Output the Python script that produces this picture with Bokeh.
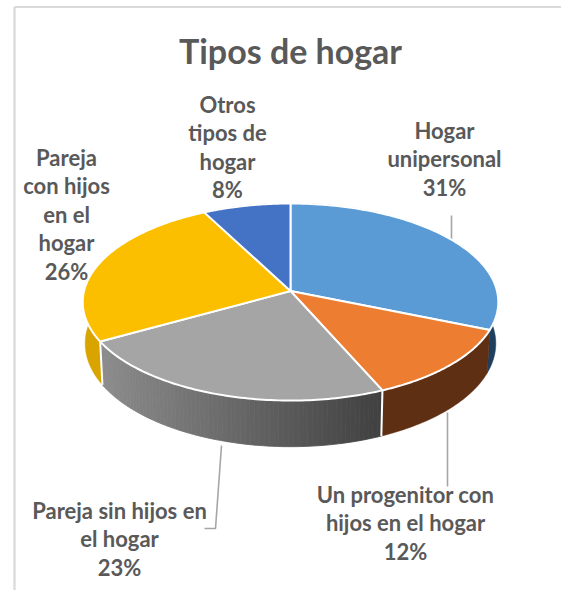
import numpy as np
from bokeh.plotting import figure
from bokeh.models import Range1d
from bokeh.core.properties import value
from bokeh.embed import file_html
from bokeh.resources import INLINE

title = "Tipos de hogar"
categories = ["Hogar unipersonal", "Un progenitor con hijos en el hogar",
              "Pareja sin hijos en el hogar", "Pareja con hijos en el hogar",
              "Otros tipos de hogar"]
shares = [31.3, 12.2, 23.4, 25.6, 7.6]
top_colors = ["#5b9bd5", "#ed7d31", "#a5a5a5", "#fbbf00", "#4472c4"]
wall_colors = ["#1f3f5f", "#5e2f12", None, "#d9a400", "#2a4a85"]
label_lines = [["Hogar", "unipersonal"], ["Un progenitor con", "hijos en el hogar"],
               ["Pareja sin hijos en", "el hogar"], ["Pareja", "con hijos", "en el", "hogar"],
               ["Otros", "tipos de", "hogar"]]

W, H = 561, 590
CX, CY, A, B, K = 290.0, 290.5, 206.5, 97.3, 0.1117
DEPTH, SHRINK = 41.0, 0.988
TEXT = "#595959"


def rim(deg, drop=False):
    t = np.radians(deg)
    u, v = np.sin(t), np.cos(t)
    w = 1 + K * v
    s = SHRINK if drop else 1.0
    x = CX + s * A * u / w
    y = CY - B * v / w + (DEPTH / w if drop else 0.0)
    return x, y


p = figure(width=W, height=H, x_range=Range1d(0, W), y_range=Range1d(H, 0),
           output_backend="svg", toolbar_location=None, min_border=0,
           background_fill_color="white",
           border_fill_color="white", outline_line_color=None)
p.axis.visible = False
p.grid.visible = False

# chart frame
p.segment([14, 14], [6.5, 6.5], [561, 14], [6.5, 590], line_color="#d9d9d9", line_width=2.2)

edges = np.cumsum([0] + shares) / sum(shares) * 360.0

# side walls
for i, col in enumerate(wall_colors):
    a0, a1 = edges[i], edges[i + 1]
    if col is None:
        steps = np.linspace(a0, a1, 71)
        xs, ys, cs = [], [], []
        xl, _ = rim(a1)
        xr, _ = rim(a0)
        for s0, s1 in zip(steps[:-1], steps[1:]):
            tx0, ty0 = rim(s0)
            tx1, ty1 = rim(s1)
            bx0, by0 = rim(s0, True)
            bx1, by1 = rim(s1, True)
            f = ((tx0 + tx1) / 2 - xl) / (xr - xl)
            g = int(round(0x8c + (0x40 - 0x8c) * f))
            xs.append([tx0, tx1, bx1, bx0])
            ys.append([ty0, ty1, by1, by0])
            cs.append(f"#{g:02x}{g:02x}{g:02x}")
        p.patches(xs, ys, fill_color=cs, line_color=cs, line_width=0.8)
    else:
        t = np.linspace(a0, a1, 60)
        tx, ty = rim(t)
        bx, by = rim(t, True)
        p.patch(np.r_[tx, bx[::-1]], np.r_[ty, by[::-1]], fill_color=col, line_color=col, line_width=0.5)

# white seams on the wall between slices
for a in edges[1:4]:
    tx, ty = rim(a)
    bx, by = rim(a, True)
    if a > 120:
        p.line([tx, bx], [ty, by], line_color="#ffffff", line_width=2)

# leader lines (behind the top face)
p.line([451, 451], [215, 242], line_color="#a6a6a6", line_width=1.6)

# top faces
for i, col in enumerate(top_colors):
    t = np.linspace(edges[i], edges[i + 1], 90)
    x, y = rim(t)
    p.patch(np.r_[CX, x], np.r_[CY, y], fill_color=col, line_color="#ffffff",
            line_width=2, line_join="round")

# other leaders
p.line([447, 447], [412, 486], line_color="#a6a6a6", line_width=1.6)
p.line([221, 215, 204], [445, 528, 528], line_color="#a6a6a6", line_width=1.6)

# texts
anchor_x = [444, 405, 119, 66, 227]
first_y = [130, 494, 510, 157, 104]
LINE = 28.4
tx, ty, tt = [], [], []
for i, lines in enumerate(label_lines):
    rows = lines + [f"{round(shares[i])}%"]
    for j, r in enumerate(rows):
        tx.append(anchor_x[i])
        ty.append(first_y[i] + j * LINE)
        tt.append(r)
p.text(tx, ty, text=tt, text_align="center", text_baseline="middle",
       text_font=value("Lato"), text_font_style="bold", text_font_size="22px", text_color=TEXT)
p.text([290], [50], text=[title], text_align="center", text_baseline="middle",
       text_font=value("Lato"), text_font_style="bold", text_font_size="34px", text_color=TEXT)

open("out.html", "w").write(file_html(p, INLINE))
